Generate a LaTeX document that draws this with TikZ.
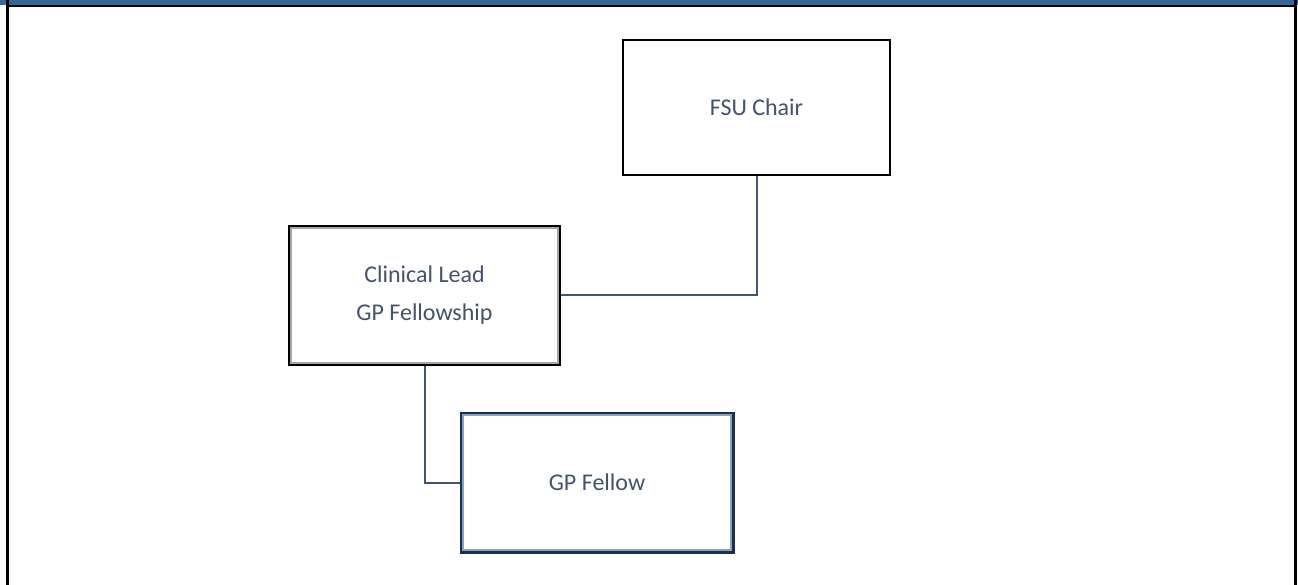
\documentclass[tikz,border=0pt]{standalone}
\usepackage{fontspec}
\setmainfont{Carlito}
\usetikzlibrary{positioning,calc}
\definecolor{textgrey}{HTML}{44546A}
\definecolor{barblue}{HTML}{336699}
\definecolor{navy}{HTML}{1C2F4C}
\tikzset{
  post/.style={rectangle, draw=black, fill=white, text=textgrey, align=center,
    font=\fontsize{24}{38}\selectfont, inner sep=0pt},
  link/.style={draw=textgrey, line width=2pt}
}
\begin{document}
\begin{tikzpicture}[x=1pt,y=-1pt]
\useasboundingbox (0,0) rectangle (1298,585);
% frame
\fill[barblue] (0,0) rectangle (1298,5);
\fill[black] (6,5) rectangle (1297,7.5);
\fill[black] (6,0) rectangle (8.5,585);
\fill[black] (1294,0) rectangle (1297,585);

\node[post, line width=1.5pt, minimum width=267, minimum height=135] (chair) at (756.5,107.5) {FSU Chair};
\node[post, line width=2pt, minimum width=271, minimum height=139] (lead) at (424.5,295.5) {Clinical Lead\\GP Fellowship};
\draw[gray!70, line width=2pt] ($(lead.north west)+(3,3)$) rectangle ($(lead.south east)+(-3,-3)$);
\node[post, draw=navy, line width=3pt, minimum width=272, minimum height=139] (fellow) at (597,482.5) {GP Fellow};
\draw[barblue!60, line width=2pt] ($(fellow.north west)+(3.5,3.5)$) rectangle ($(fellow.south east)+(-3.5,-3.5)$);

\draw[link] (chair.south) |- (lead.east);
\draw[link] (lead.south) |- (fellow.west);
\end{tikzpicture}
\end{document}
